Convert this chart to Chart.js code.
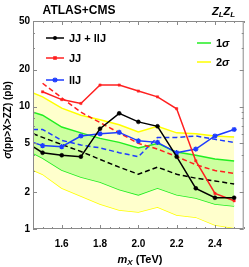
<!DOCTYPE html>
<html>
<head>
<meta charset="utf-8">
<script src="https://cdn.jsdelivr.net/npm/chart.js@4.4.1/dist/chart.umd.min.js"></script>
<style>
  html, body { margin: 0; padding: 0; background: #fff; }
  #wrap { width: 249px; height: 267px; }
</style>
</head>
<body>
<div id="wrap"><canvas id="zz" width="249" height="267"></canvas></div>
<script>
// resonance masses in TeV (1.45 is where the curves enter the frame)
const masses = [1.45, 1.5, 1.6, 1.7, 1.8, 1.9, 2.0, 2.1, 2.2, 2.3, 2.4, 2.5];

// observed limits (pb)
const obsComb = [4.7, 4.2, 4.0, 3.9, 6.6, 8.8, 7.5, 6.9, 3.9, 2.15, 1.8, 1.8];
const obsJJ = [null, 13.2, 11.4, 10.6, 15.0, 15.0, 13.4, 12.0, 9.6, 3.6, 1.95, 1.7];
const obsLLJ = [5.1, 4.8, 4.7, 5.75, 6.0, 6.15, 5.25, 5.1, 4.2, 4.5, 5.75, 6.5];

// expected limits (pb)
const expComb = [6.0, 5.6, 4.9, 4.3, 3.7, 3.2, 2.8, 3.2, 2.8, 2.6, 2.47, 2.33];
const expJJ = [null, 15.5, 11.8, 9.0, 7.4, 6.1, 5.0, 4.5, 3.9, 3.35, 3.0, 2.85];
const expLLJ = [6.5, 6.5, 5.3, 4.85, 4.6, 4.2, 3.9, 5.6, 5.6, 5.75, 5.4, 5.1];

// bands around the combined expected limit
const sigma1Up = [9.0, 8.5, 6.8, 6.1, 5.5, 5.1, 4.6, 5.0, 4.25, 4.0, 3.73, 3.6];
const sigma1Down = [4.17, 3.8, 3.03, 2.66, 2.42, 2.1, 1.9, 2.16, 1.9, 1.79, 1.6, 1.54];
const sigma2Up = [12.9, 12.0, 9.7, 8.5, 7.8, 7.1, 6.2, 6.9, 6.1, 6.0, 5.75, 5.65];
const sigma2Down = [3.03, 2.8, 2.16, 1.86, 1.6, 1.43, 1.38, 1.51, 1.3, 1.25, 1.08, 1.02];

// axis ticks
const xTicks = [1.6, 1.8, 2.0, 2.2, 2.4];
const yTicks = [1, 2, 5, 10, 20, 50];
const yMinor = [3, 4, 6, 7, 8, 9, 30, 40];

const FONT = '"Liberation Sans", Arial, sans-serif';
const GREEN = '#22ee22';
const YELLOW = '#ffff00';
const BLUE = '#1e3cff';
const RED = '#ff2020';

function pts(values) {
    return masses.map((m, i) => ({ x: m, y: values[i] }));
}

function line(data, color, opts) {
    return Object.assign({
        data: pts(data),
        borderColor: color,
        backgroundColor: color,
        borderWidth: 1.5,
        pointRadius: 0,
        fill: false,
        tension: 0,
        spanGaps: false
    }, opts || {});
}

const hideFirst = (r) => (ctx) => (ctx.dataIndex === 0 ? 0 : r);

const datasets = [
    line(obsComb, '#000', { order: 1, pointRadius: hideFirst(2), pointStyle: 'circle', pointBorderWidth: 0.5 }),
    line(obsJJ, RED, { order: 1, pointRadius: 1.6, pointStyle: 'rect', pointBorderWidth: 0.5 }),
    line(obsLLJ, BLUE, { order: 1, pointRadius: hideFirst(2.6), pointStyle: 'star', pointBorderWidth: 1.3 }),
    line(expComb, '#000', { order: 2, borderDash: [5, 3] }),
    line(expJJ, RED, { order: 2, borderDash: [5, 3] }),
    line(expLLJ, BLUE, { order: 2, borderDash: [5, 3] }),
    line(sigma1Up, GREEN, { order: 5, fill: 7, backgroundColor: '#ccff9f' }),
    line(sigma1Down, GREEN, { order: 5 }),
    line(sigma2Up, YELLOW, { order: 6, fill: 9, backgroundColor: '#ffffcc' }),
    line(sigma2Down, YELLOW, { order: 6 })
];

function isMajorX(v) {
    return xTicks.some((t) => Math.abs(t - v) < 1e-6);
}

// frame with inward ticks on all four sides
const framePlugin = {
    id: 'frame',
    afterDatasetsDraw(chart) {
        const { ctx, chartArea: a, scales: { x, y } } = chart;
        ctx.save();
        ctx.strokeStyle = '#8a8a8a';
        ctx.lineWidth = 1;
        ctx.strokeRect(a.left + 0.5, a.top + 0.5, a.right - a.left - 1, a.bottom - a.top - 1);
        ctx.beginPath();
        for (let v = 1.45; v <= 2.551; v += 0.05) {
            const px = Math.round(x.getPixelForValue(v)) + 0.5;
            const len = isMajorX(v) ? 4 : 2;
            ctx.moveTo(px, a.bottom);
            ctx.lineTo(px, a.bottom - len);
            ctx.moveTo(px, a.top);
            ctx.lineTo(px, a.top + len);
        }
        yTicks.concat(yMinor).forEach((v) => {
            const py = Math.round(y.getPixelForValue(v)) + 0.5;
            const len = yTicks.includes(v) ? 4 : 2;
            ctx.moveTo(a.left, py);
            ctx.lineTo(a.left + len, py);
            ctx.moveTo(a.right, py);
            ctx.lineTo(a.right - len, py);
        });
        ctx.stroke();
        ctx.restore();
    }
};

// draws a row of text runs (different fonts / offsets) starting at x
function runs(ctx, parts, x, y, align) {
    let total = 0;
    parts.forEach((p) => { ctx.font = p.font; total += ctx.measureText(p.t).width; });
    let cx = align === 'center' ? x - total / 2 : x;
    parts.forEach((p) => {
        ctx.font = p.font;
        ctx.fillText(p.t, cx, y + (p.dy || 0));
        cx += ctx.measureText(p.t).width;
    });
}

function marker(ctx, style, x, y, color) {
    ctx.fillStyle = color;
    ctx.strokeStyle = color;
    ctx.beginPath();
    if (style === 'circle') {
        ctx.arc(x, y, 2, 0, Math.PI * 2);
        ctx.fill();
    } else if (style === 'rect') {
        ctx.fillRect(x - 1.8, y - 1.8, 3.6, 3.6);
    } else {
        ctx.lineWidth = 1.3;
        for (let k = 0; k < 4; k++) {
            const ang = k * Math.PI / 4;
            ctx.moveTo(x - 2.6 * Math.cos(ang), y - 2.6 * Math.sin(ang));
            ctx.lineTo(x + 2.6 * Math.cos(ang), y + 2.6 * Math.sin(ang));
        }
        ctx.stroke();
    }
}

const textPlugin = {
    id: 'texts',
    afterDraw(chart) {
        const ctx = chart.ctx;
        ctx.save();
        ctx.fillStyle = '#000';
        ctx.textBaseline = 'alphabetic';

        const B11 = 'bold 11px ' + FONT;
        const BI11 = 'italic bold 11px ' + FONT;
        const BI8 = 'italic bold 8px ' + FONT;

        runs(ctx, [{ t: 'ATLAS+CMS', font: 'bold 12px ' + FONT }], 79, 14, 'center');
        runs(ctx, [
            { t: 'Z', font: BI11 }, { t: 'L', font: BI8, dy: 2 },
            { t: 'Z', font: BI11 }, { t: 'L', font: BI8, dy: 2 }
        ], 212, 15, 'left');

        // x axis title
        runs(ctx, [
            { t: 'm', font: BI11 }, { t: 'X', font: BI8, dy: 2 },
            { t: ' (TeV)', font: B11 }
        ], 140, 263, 'center');

        // y axis title
        ctx.save();
        ctx.translate(11, 120);
        ctx.rotate(-Math.PI / 2);
        runs(ctx, [
            { t: 'σ', font: 'italic bold 10px ' + FONT },
            { t: '(pp>X>ZZ) (pb)', font: 'bold 10px ' + FONT }
        ], 0, 0, 'center');
        ctx.restore();

        // left legend
        const leftRows = [
            { label: 'JJ + llJ', color: '#000', style: 'circle', y: 38 },
            { label: 'JJ', color: RED, style: 'rect', y: 58 },
            { label: 'llJ', color: BLUE, style: 'star', y: 80 }
        ];
        leftRows.forEach((r) => {
            ctx.strokeStyle = r.color;
            ctx.lineWidth = 1.5;
            ctx.beginPath();
            ctx.moveTo(46, r.y);
            ctx.lineTo(64, r.y);
            ctx.stroke();
            marker(ctx, r.style, 55, r.y, r.color);
            ctx.fillStyle = '#000';
            runs(ctx, [{ t: r.label, font: B11 }], 69, r.y + 4, 'left');
        });

        // right legend
        const rightRows = [
            { label: '1', color: GREEN, y: 43 },
            { label: '2', color: YELLOW, y: 62 }
        ];
        rightRows.forEach((r) => {
            ctx.strokeStyle = r.color;
            ctx.lineWidth = 1.5;
            ctx.beginPath();
            ctx.moveTo(197, r.y);
            ctx.lineTo(211, r.y);
            ctx.stroke();
            ctx.fillStyle = '#000';
            runs(ctx, [
                { t: r.label, font: B11 },
                { t: 'σ', font: BI11 }
            ], 216, r.y + 4, 'left');
        });
        ctx.restore();
    }
};

new Chart(document.getElementById('zz'), {
    type: 'line',
    data: { datasets },
    options: {
        responsive: false,
        animation: false,
        layout: { padding: { top: 21, right: 3, left: 0, bottom: 0 } },
        plugins: {
            legend: { display: false },
            tooltip: { enabled: false },
            filler: { propagate: false }
        },
        scales: {
            x: {
                type: 'linear',
                min: 1.45,
                max: 2.55,
                grid: { display: false, drawTicks: false },
                border: { display: false },
                afterBuildTicks: (scale) => { scale.ticks = xTicks.map((v) => ({ value: v })); },
                afterFit: (scale) => { scale.height = 38; },
                ticks: {
                    padding: 9,
                    color: '#000',
                    font: { family: FONT, size: 10, weight: 'bold' },
                    callback: (v) => Number(v).toFixed(1)
                }
            },
            y: {
                type: 'logarithmic',
                min: 1,
                max: 50,
                grid: { display: false, drawTicks: false },
                border: { display: false },
                afterBuildTicks: (scale) => { scale.ticks = yTicks.map((v) => ({ value: v })); },
                afterFit: (scale) => { scale.width = 33; },
                ticks: {
                    padding: 3,
                    color: '#000',
                    font: { family: FONT, size: 10, weight: 'bold' },
                    callback: (v) => String(v)
                }
            }
        }
    },
    plugins: [framePlugin, textPlugin]
});
</script>
</body>
</html>
